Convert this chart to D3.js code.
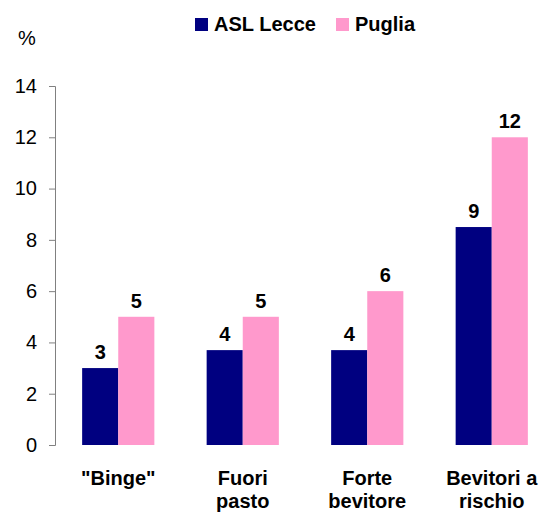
<!DOCTYPE html>
<html lang="it">
<head>
<meta charset="UTF-8">
<title>Consumo di alcol</title>
<script src="https://d3js.org/d3.v7.min.js"></script>
<style>
  body { margin: 0; background: #fff; }
  text { font-family: "Liberation Sans", Arial, sans-serif; }
</style>
</head>
<body>
<div id="chart"></div>
<script>
// data
var categories = ['"Binge"', "Fuori\npasto", "Forte\nbevitore", "Bevitori a\nrischio"];
var seriesNames = ["ASL Lecce", "Puglia"];
var aslLecce = [3.0, 3.7, 3.7, 8.5];
var puglia = [5.0, 5.0, 6.0, 12.0];
var colors = ["#000080", "#FF99CC"];
var yTicks = [0, 2, 4, 6, 8, 10, 12, 14];

var width = 545, height = 518;

var svg = d3.select("#chart").append("svg")
    .attr("width", width)
    .attr("height", height);

var y = d3.scaleLinear().domain([0, 14]).range([445, 86]);

var x = d3.scaleBand()
    .domain(categories)
    .range([56, 554])
    .paddingInner(0.42)
    .paddingOuter(0.21);

var xs = d3.scaleBand()
    .domain(seriesNames)
    .range([0, x.bandwidth()]);

var series = [aslLecce, puglia];

// y axis
var yAxis = svg.append("g")
    .attr("transform", "translate(55,0)")
    .call(d3.axisLeft(y).tickValues(yTicks).tickSize(6).tickPadding(12).tickSizeOuter(6));
yAxis.select(".domain").attr("stroke", "#808080");
yAxis.selectAll(".tick line").attr("stroke", "#808080");
yAxis.selectAll(".tick text")
    .attr("fill", "#000")
    .style("font-size", "20px")
    .style("font-family", "'Liberation Sans', Arial, sans-serif");

svg.append("text")
    .attr("x", 18).attr("y", 45)
    .style("font-size", "20px")
    .text("%");

// bars
var groups = svg.selectAll(".grp")
    .data(categories)
    .enter().append("g")
    .attr("class", "grp")
    .attr("transform", function (d) { return "translate(" + x(d) + ",0)"; });

seriesNames.forEach(function (s, si) {
    groups.append("rect")
        .attr("x", xs(s))
        .attr("width", xs.bandwidth())
        .attr("y", function (d, i) { return y(series[si][i]); })
        .attr("height", function (d, i) { return y(0) - y(series[si][i]); })
        .attr("fill", colors[si]);

    groups.append("text")
        .attr("x", xs(s) + xs.bandwidth() / 2)
        .attr("y", function (d, i) { return y(series[si][i]) - 9; })
        .attr("text-anchor", "middle")
        .style("font-size", "20px")
        .style("font-weight", "bold")
        .text(function (d, i) { return Math.round(series[si][i]); });
});

// category labels
groups.append("text")
    .attr("text-anchor", "middle")
    .style("font-size", "20px")
    .style("font-weight", "bold")
    .each(function (d) {
        var lines = d.split("\n");
        var t = d3.select(this);
        lines.forEach(function (l, k) {
            t.append("tspan")
                .attr("x", x.bandwidth() / 2)
                .attr("y", 485 + k * 23)
                .text(l);
        });
    });

// legend
var legendX = [195, 336];
seriesNames.forEach(function (s, i) {
    svg.append("rect")
        .attr("x", legendX[i]).attr("y", 18)
        .attr("width", 13).attr("height", 13)
        .attr("fill", colors[i]);
    svg.append("text")
        .attr("x", legendX[i] + 19).attr("y", 31)
        .style("font-size", "20px")
        .style("font-weight", "bold")
        .text(s);
});
</script>
</body>
</html>
